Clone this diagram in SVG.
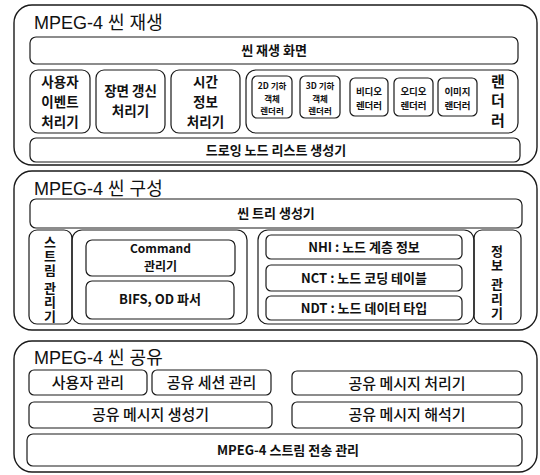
<svg xmlns="http://www.w3.org/2000/svg" width="540" height="475" viewBox="0 0 540 475">
<style>
  .sec { fill: none; stroke: #1a1a1a; stroke-width: 1.4; }
  .box { fill: none; stroke: #1a1a1a; stroke-width: 1.2; }
  .title { font-family: "Liberation Sans", "Noto Sans CJK KR", sans-serif; font-size: 18px; fill: #111; }
  .b { font-family: "Noto Sans CJK KR", "Liberation Sans", sans-serif; font-weight: bold; fill: #111; text-anchor: middle; }
  .r { font-family: "Noto Sans CJK KR", "Liberation Sans", sans-serif; font-weight: 500; fill: #111; text-anchor: middle; }
  .v { writing-mode: vertical-rl; }
  .t12 { font-size: 12px; }
  .t13 { font-size: 13px; }
  .t14 { font-size: 13.5px; }
  .t11 { font-size: 9.5px; }
  .t9 { font-size: 8.5px; }
  .t15 { font-size: 15px; }
</style>
<rect width="540" height="475" fill="#ffffff"/>

<!-- Section 1: MPEG-4 씬 재생 -->
<g id="sec-play">
  <rect class="sec" x="14" y="5" width="523" height="160" rx="18"/>
  <text class="title" x="34" y="29">MPEG-4 씬 재생</text>
</g>
<g id="scene-screen">
  <rect class="box" x="30" y="37" width="488" height="27" rx="6"/>
  <text class="b t13" x="274" y="55">씬 재생 화면</text>
</g>
<g id="user-event">
  <rect class="box" x="30" y="70" width="60" height="63" rx="8"/>
  <text class="b t14" x="60" y="87">사용자</text>
  <text class="b t14" x="60" y="107">이벤트</text>
  <text class="b t14" x="60" y="127">처리기</text>
</g>
<g id="scene-update">
  <rect class="box" x="96" y="70" width="69" height="63" rx="8"/>
  <text class="b t14" x="130.5" y="96">장면 갱신</text>
  <text class="b t14" x="130.5" y="116">처리기</text>
</g>
<g id="time-info">
  <rect class="box" x="171" y="70" width="69" height="63" rx="8"/>
  <text class="b t14" x="205.5" y="87">시간</text>
  <text class="b t14" x="205.5" y="107">정보</text>
  <text class="b t14" x="205.5" y="127">처리기</text>
</g>
<g id="renderer">
  <rect class="box" x="246" y="70" width="272" height="63" rx="10"/>
  <text class="b t15 v" x="498" y="103" letter-spacing="4.5">랜더러</text>
</g>
<g id="r2d">
  <rect class="box" x="252" y="76" width="40" height="42" rx="5"/>
  <text class="b t9" x="272" y="89">2D 기하</text>
  <text class="b t9" x="272" y="101.5">객체</text>
  <text class="b t9" x="272" y="114">렌더러</text>
</g>
<g id="r3d">
  <rect class="box" x="300" y="76" width="40" height="42" rx="5"/>
  <text class="b t9" x="320" y="89">3D 기하</text>
  <text class="b t9" x="320" y="101.5">객체</text>
  <text class="b t9" x="320" y="114">렌더러</text>
</g>
<g id="rvideo">
  <rect class="box" x="350" y="78" width="38" height="38" rx="5"/>
  <text class="b t11" x="369" y="95">비디오</text>
  <text class="b t11" x="369" y="109">렌더러</text>
</g>
<g id="raudio">
  <rect class="box" x="394" y="78" width="39" height="38" rx="5"/>
  <text class="b t11" x="413.5" y="95">오디오</text>
  <text class="b t11" x="413.5" y="109">렌더러</text>
</g>
<g id="rimage">
  <rect class="box" x="438" y="78" width="39" height="38" rx="5"/>
  <text class="b t11" x="457.5" y="95">이미지</text>
  <text class="b t11" x="457.5" y="109">랜더러</text>
</g>
<g id="draw-list">
  <rect class="box" x="30" y="138" width="490" height="24" rx="6"/>
  <text class="b t13" x="276" y="155">드로잉 노드 리스트 생성기</text>
</g>

<!-- Section 2: MPEG-4 씬 구성 -->
<g id="sec-compose">
  <rect class="sec" x="14" y="171" width="523" height="159" rx="18"/>
  <text class="title" x="34" y="195">MPEG-4 씬 구성</text>
</g>
<g id="tree-gen">
  <rect class="box" x="30" y="199" width="492" height="29" rx="6"/>
  <text class="b t13" x="276" y="218">씬 트리 생성기</text>
</g>
<g id="stream-mgr">
  <rect class="box" x="29" y="230" width="43" height="94" rx="8"/>
  <text class="b t13 v" x="50" y="280" letter-spacing="1">스트림 관리기</text>
</g>
<g id="left-group">
  <rect class="box" x="72" y="230" width="175" height="94" rx="10"/>
</g>
<g id="command-mgr">
  <rect class="box" x="86" y="240" width="149" height="36" rx="6"/>
  <text class="b t12" x="160.5" y="253">Command</text>
  <text class="b t12" x="160.5" y="271">관리기</text>
</g>
<g id="bifs-parser">
  <rect class="box" x="86" y="281" width="148" height="38" rx="6"/>
  <text class="b t13" x="160" y="304">BIFS, OD  파서</text>
</g>
<g id="right-group">
  <rect class="box" x="258" y="230" width="216" height="94" rx="10"/>
</g>
<g id="nhi">
  <rect class="box" x="266" y="235" width="196" height="24" rx="5"/>
  <text class="b t13" x="364" y="252">NHI : 노드 계층 정보</text>
</g>
<g id="nct">
  <rect class="box" x="266" y="265" width="196" height="26" rx="5"/>
  <text class="b t13" x="364" y="283">NCT : 노드 코딩 테이블</text>
</g>
<g id="ndt">
  <rect class="box" x="266" y="296" width="196" height="24" rx="5"/>
  <text class="b t13" x="364" y="313">NDT : 노드 데이터 타입</text>
</g>
<g id="info-mgr">
  <rect class="box" x="474" y="230" width="47" height="94" rx="8"/>
  <text class="b t13 v" x="497" y="283" letter-spacing="1.5">정보 관리기</text>
</g>

<!-- Section 3: MPEG-4 씬 공유 -->
<g id="sec-share">
  <rect class="sec" x="14" y="341" width="523" height="131" rx="18"/>
  <text class="title" x="34" y="364">MPEG-4 씬 공유</text>
</g>
<g id="user-mgr">
  <rect class="box" x="29" y="370" width="118" height="25" rx="5"/>
  <text class="r t15" x="88" y="388">사용자 관리</text>
</g>
<g id="session-mgr">
  <rect class="box" x="152" y="370" width="119" height="25" rx="5"/>
  <text class="r t15" x="211.5" y="388">공유 세션 관리</text>
</g>
<g id="msg-proc">
  <rect class="box" x="292" y="371" width="230" height="24" rx="5"/>
  <text class="r t15" x="407" y="389">공유 메시지 처리기</text>
</g>
<g id="msg-gen">
  <rect class="box" x="29" y="402" width="243" height="26" rx="5"/>
  <text class="r t15" x="150.5" y="420">공유 메시지 생성기</text>
</g>
<g id="msg-parse">
  <rect class="box" x="292" y="402" width="230" height="26" rx="5"/>
  <text class="r t15" x="407" y="420">공유 메시지 해석기</text>
</g>
<g id="stream-trans">
  <rect class="box" x="27" y="434" width="495" height="32" rx="6"/>
  <text class="b t13" x="288" y="455">MPEG-4 스트림 전송 관리</text>
</g>

<g id="connectors"></g>
</svg>
